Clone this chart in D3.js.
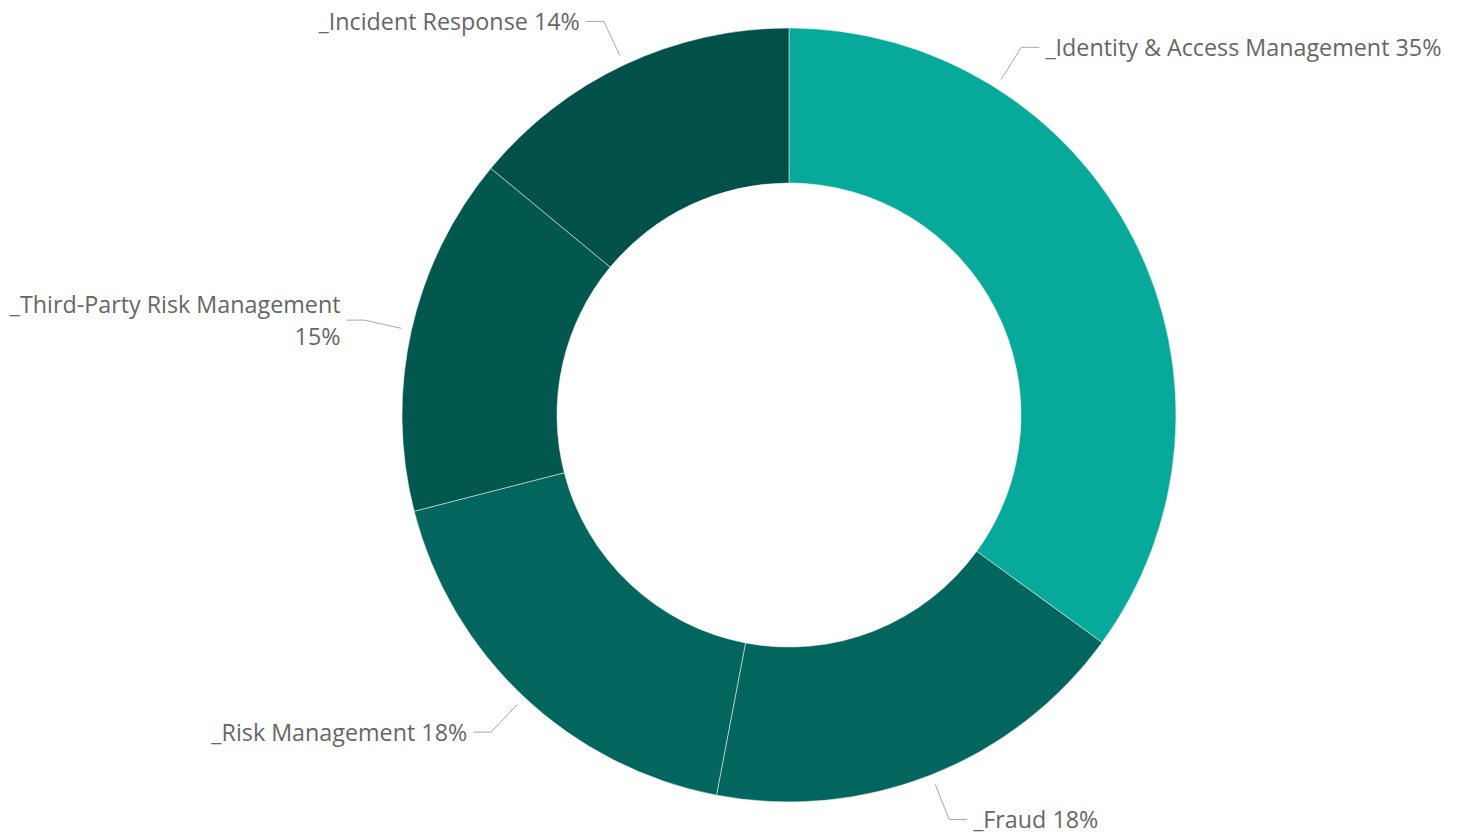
<!DOCTYPE html>
<html>
<head>
<meta charset="utf-8">
<script src="https://cdn.jsdelivr.net/npm/d3@7/dist/d3.min.js"></script>
<style>
  html, body { margin: 0; padding: 0; background: #fff; }
  svg { display: block; }
  .lbl { font-family: "Segoe UI", "Open Sans", "Noto Sans", sans-serif; fill: #666; }
</style>
</head>
<body>
<svg id="chart"></svg>
<script>
// Share of work by domain
const categories = [
  "_Identity & Access Management",
  "_Fraud",
  "_Risk Management",
  "_Third-Party Risk Management",
  "_Incident Response"
];
const values = [35, 18, 18, 15, 14];
const colors = ["#07A99B", "#02665E", "#02665E", "#02574F", "#02504A"];

const W = 1460, H = 835;
const cx = 789, cy = 415;
const rOuter = 387, rInner = 232;
const fontSize = 23.3;
const edgeMargin = 18;

const svg = d3.select("#chart").attr("width", W).attr("height", H);
const g = svg.append("g").attr("transform", `translate(${cx},${cy})`);

const data = categories.map((c, i) => ({ name: c, value: values[i], color: colors[i] }));
const total = d3.sum(values);

const pie = d3.pie().value(d => d.value).sort(null);
const arc = d3.arc().innerRadius(rInner).outerRadius(rOuter);
const arcs = pie(data);

g.selectAll("path.slice")
  .data(arcs)
  .enter().append("path")
  .attr("class", "slice")
  .attr("d", arc)
  .attr("fill", d => d.data.color)
  .attr("stroke", "#fff")
  .attr("stroke-width", 0.5);

// Labels with radial-then-horizontal leader lines
const pct = d3.format(".0%");
const anchorR = rOuter + 10, elbowLen = 38, tailLen = 18, gap = 6;
const lineH = 32;

const measure = svg.append("text").attr("class", "lbl").style("font-size", fontSize + "px");
function textW(s) { measure.text(s); return measure.node().getComputedTextLength(); }

const pt = (a, r) => [Math.sin(a) * r, -Math.cos(a) * r];

arcs.forEach(d => {
  const label = `${d.data.name} ${pct(d.data.value / total)}`;
  let a = (d.startAngle + d.endAngle) / 2;
  const right = Math.sin(a) >= 0;
  const fullW = textW(label);

  const geom = ang => {
    const p0 = pt(ang, anchorR);
    const p1 = pt(ang, anchorR + elbowLen);
    const p2 = [p1[0] + (right ? tailLen : -tailLen), p1[1]];
    const tx = p2[0] + (right ? gap : -gap);
    return { p0, p1, p2, tx };
  };

  let gm = geom(a);
  let lines = [label];
  if (right) {
    // slide the anchor toward the top of the ring until the label fits
    while (cx + gm.tx + fullW > W - edgeMargin && a > d.startAngle) {
      a -= 0.002;
      gm = geom(a);
    }
  } else if (cx + gm.tx - fullW < 0) {
    // wrap the percentage onto its own line
    lines = [d.data.name, pct(d.data.value / total)];
  }

  g.append("polyline")
    .attr("points", [gm.p0, gm.p1, gm.p2].map(p => p.join(",")).join(" "))
    .attr("fill", "none")
    .attr("stroke", "#a8a8a8")
    .attr("stroke-width", 1);

  const t = g.append("text")
    .attr("class", "lbl")
    .style("font-size", fontSize + "px")
    .attr("text-anchor", right ? "start" : "end");
  const y0 = gm.p2[1] - (lines.length - 1) * lineH / 2;
  lines.forEach((s, i) => {
    t.append("tspan")
      .attr("x", gm.tx)
      .attr("y", y0 + i * lineH)
      .attr("dy", "0.38em")
      .text(s);
  });
});
measure.remove();
</script>
</body>
</html>
